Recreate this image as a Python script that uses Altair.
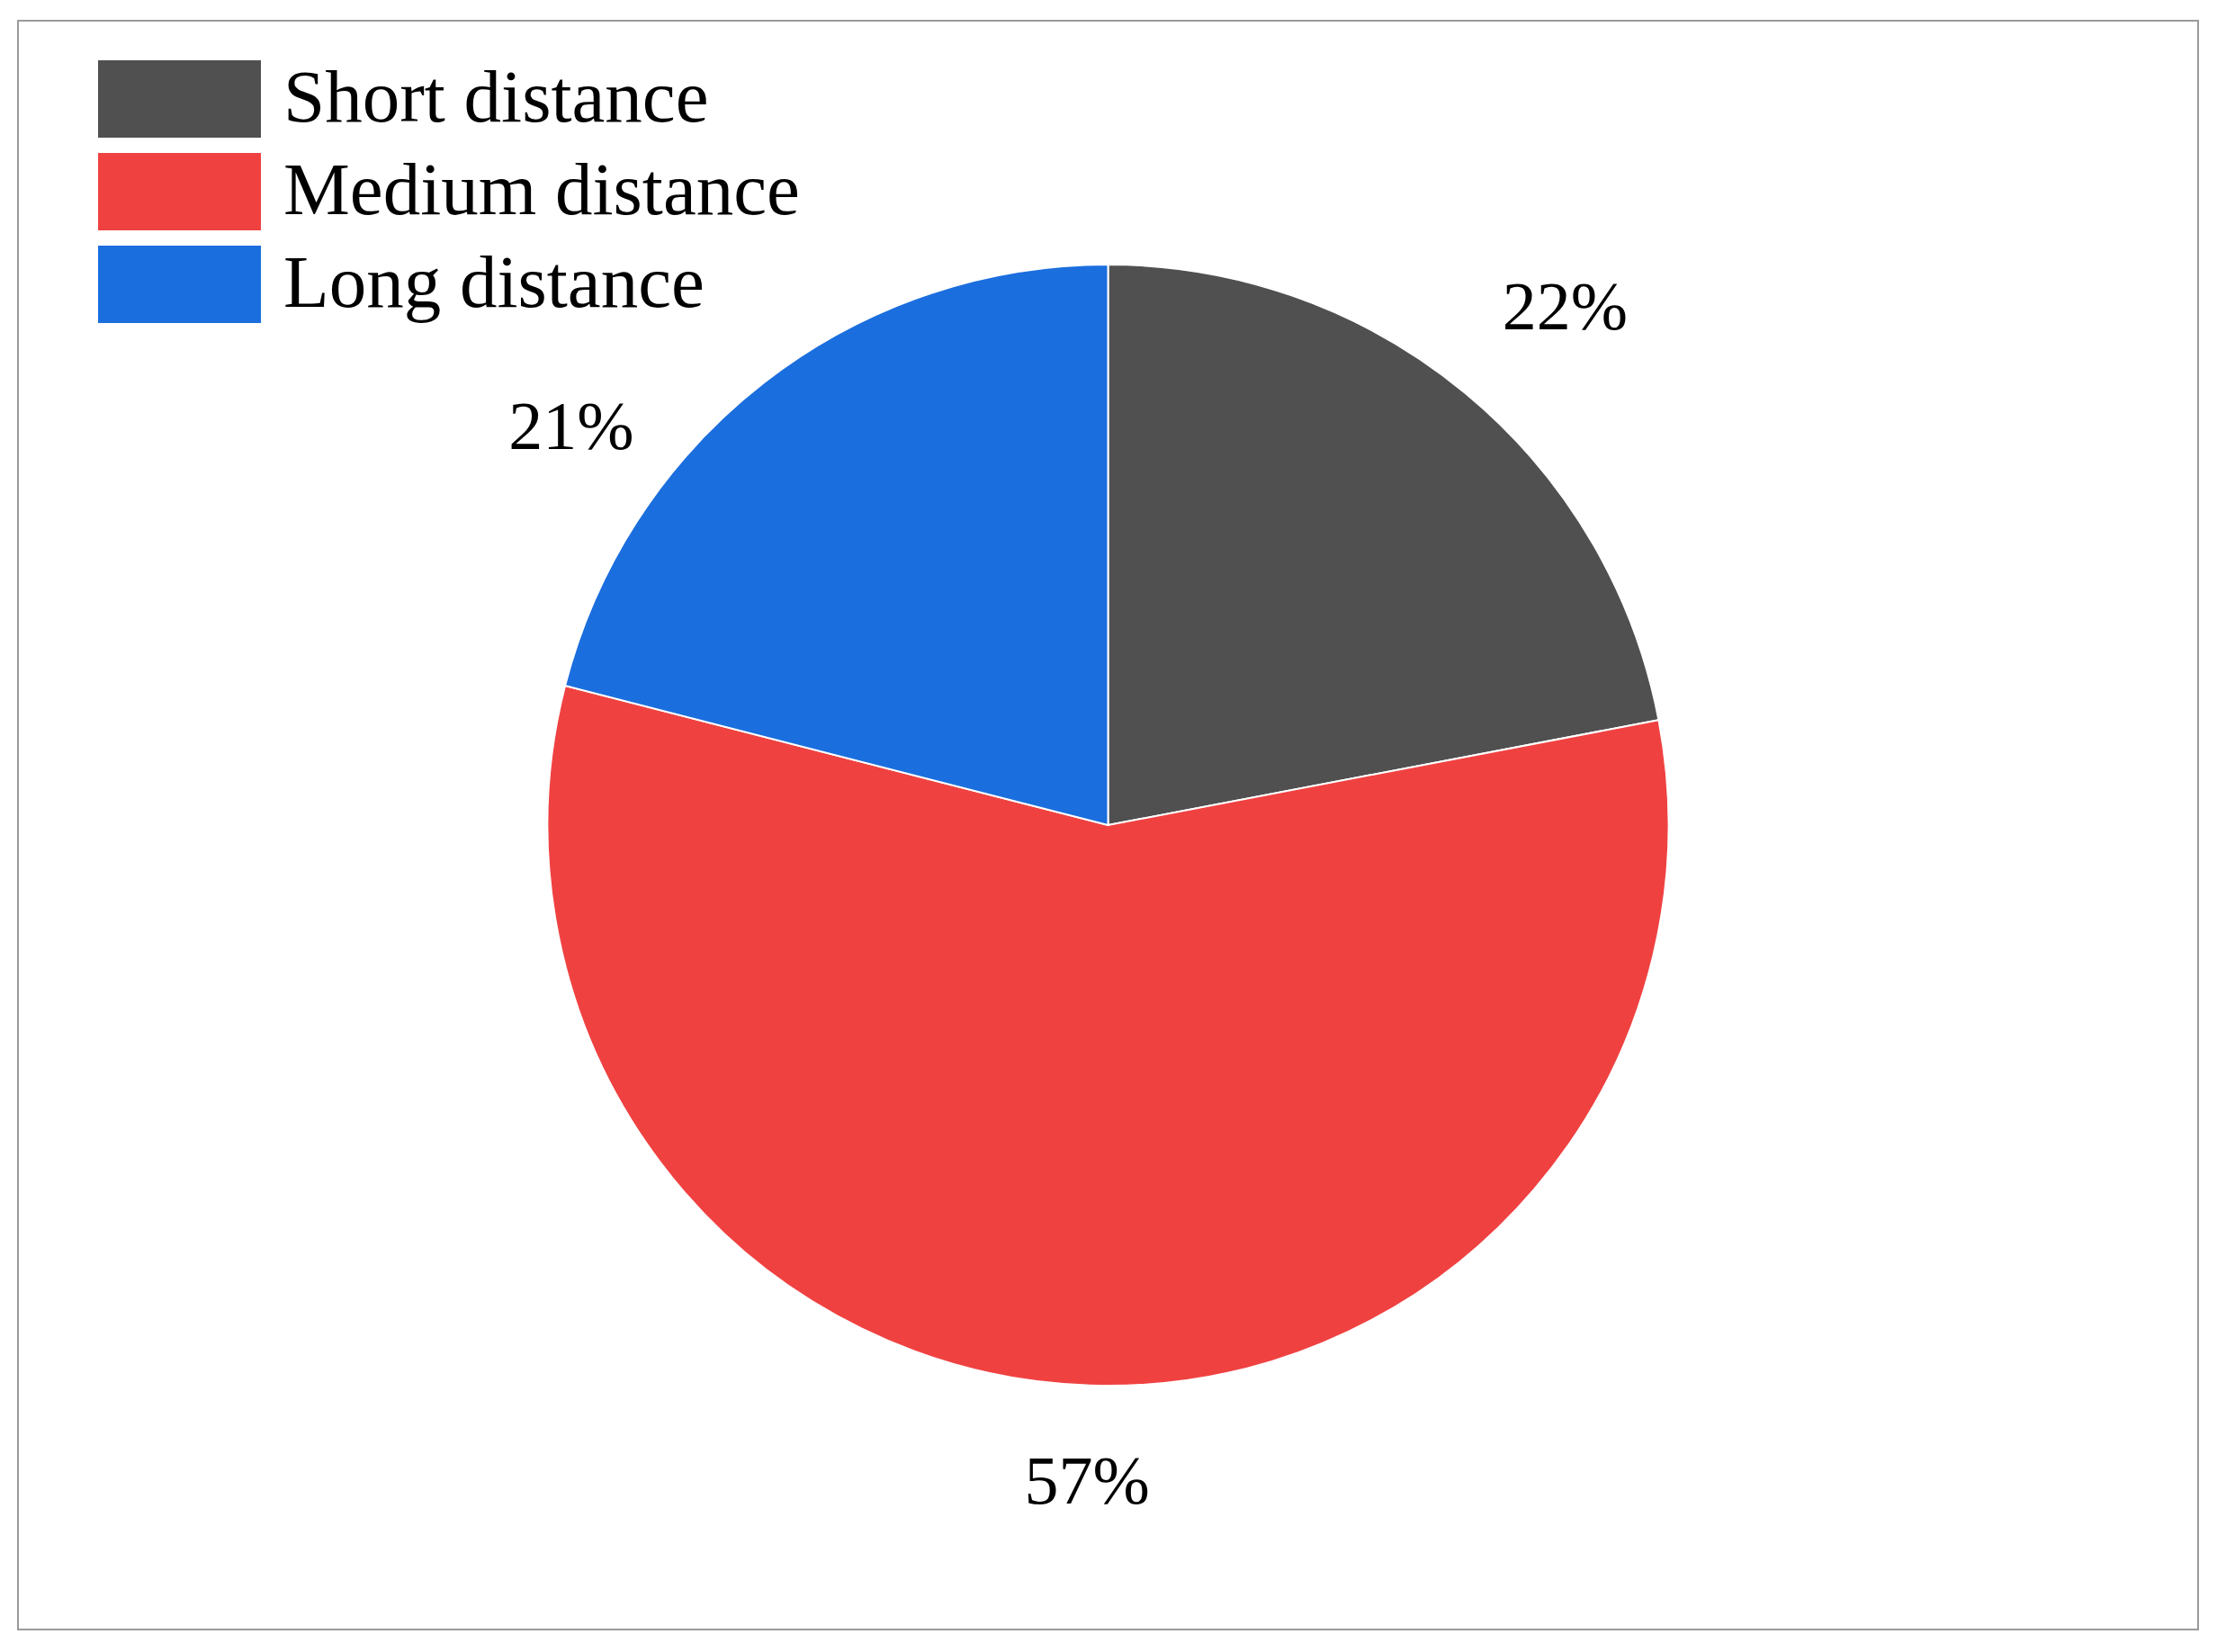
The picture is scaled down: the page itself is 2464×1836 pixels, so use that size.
import altair as alt
import pandas as pd

categories = ["Short distance", "Medium distance", "Long distance"]
shares = [22, 57, 21]
labels = ["22%", "57%", "21%"]
colors = ["#505050", "#F04141", "#1B6EDE"]
stack_order = [0, 1, 2]

W, H = 2423, 1788

df = pd.DataFrame({"category": categories, "share": shares, "label": labels, "ord": stack_order})

theta_scale = alt.Scale(domain=[0, 100])

pie = alt.Chart(df).mark_arc(outerRadius=623, stroke="white", strokeWidth=2).encode(
    theta=alt.Theta("share:Q", stack=True, scale=theta_scale),
    order=alt.Order("ord:Q"),
    color=alt.Color(
        "category:N",
        sort=categories,
        scale=alt.Scale(domain=categories, range=colors),
        legend=alt.Legend(
            title=None,
            orient="none",
            legendX=89,
            legendY=44,
            symbolType="M-1,-0.475L1,-0.475L1,0.475L-1,0.475Z",
            symbolSize=32761,
            symbolStrokeWidth=0,
            clipHeight=86,
            rowPadding=17,
            labelFont="Liberation Serif",
            labelFontSize=83,
            labelColor="black",
            labelOffset=25,
            labelLimit=2000,
            padding=0,
        ),
    ),
)

label_base = alt.Chart(df).transform_window(
    cum="sum(share)", sort=[alt.SortField("ord")]
).transform_calculate(
    mid="datum.cum - datum.share / 2"
)


def label_layer(cat, dx, dy):
    return label_base.transform_filter(alt.datum.category == cat).mark_text(
        radius=745,
        font="Liberation Serif",
        fontSize=76,
        color="black",
        align="center",
        baseline="middle",
        dx=dx,
        dy=dy,
    ).encode(
        theta=alt.Theta("mid:Q", stack=None, scale=theta_scale),
        text="label:N",
    )


frame = alt.Chart(alt.Data(values=[{"f": 1}])).mark_rect(
    fill="transparent", stroke="#9a9a9a", strokeWidth=2
).encode(
    x=alt.value(0), x2=alt.value(W), y=alt.value(0), y2=alt.value(H)
)

chart = alt.layer(
    frame,
    pie,
    label_layer("Short distance", 33, 0),
    label_layer("Medium distance", 0, -14),
    label_layer("Long distance", -140, 148),
).properties(
    width=W,
    height=H,
    padding={"left": 11, "top": 14, "right": 10, "bottom": 10},
    background="white",
).configure_view(stroke=None)

chart.save("out.html", embed_options={"renderer": "svg", "actions": False})
